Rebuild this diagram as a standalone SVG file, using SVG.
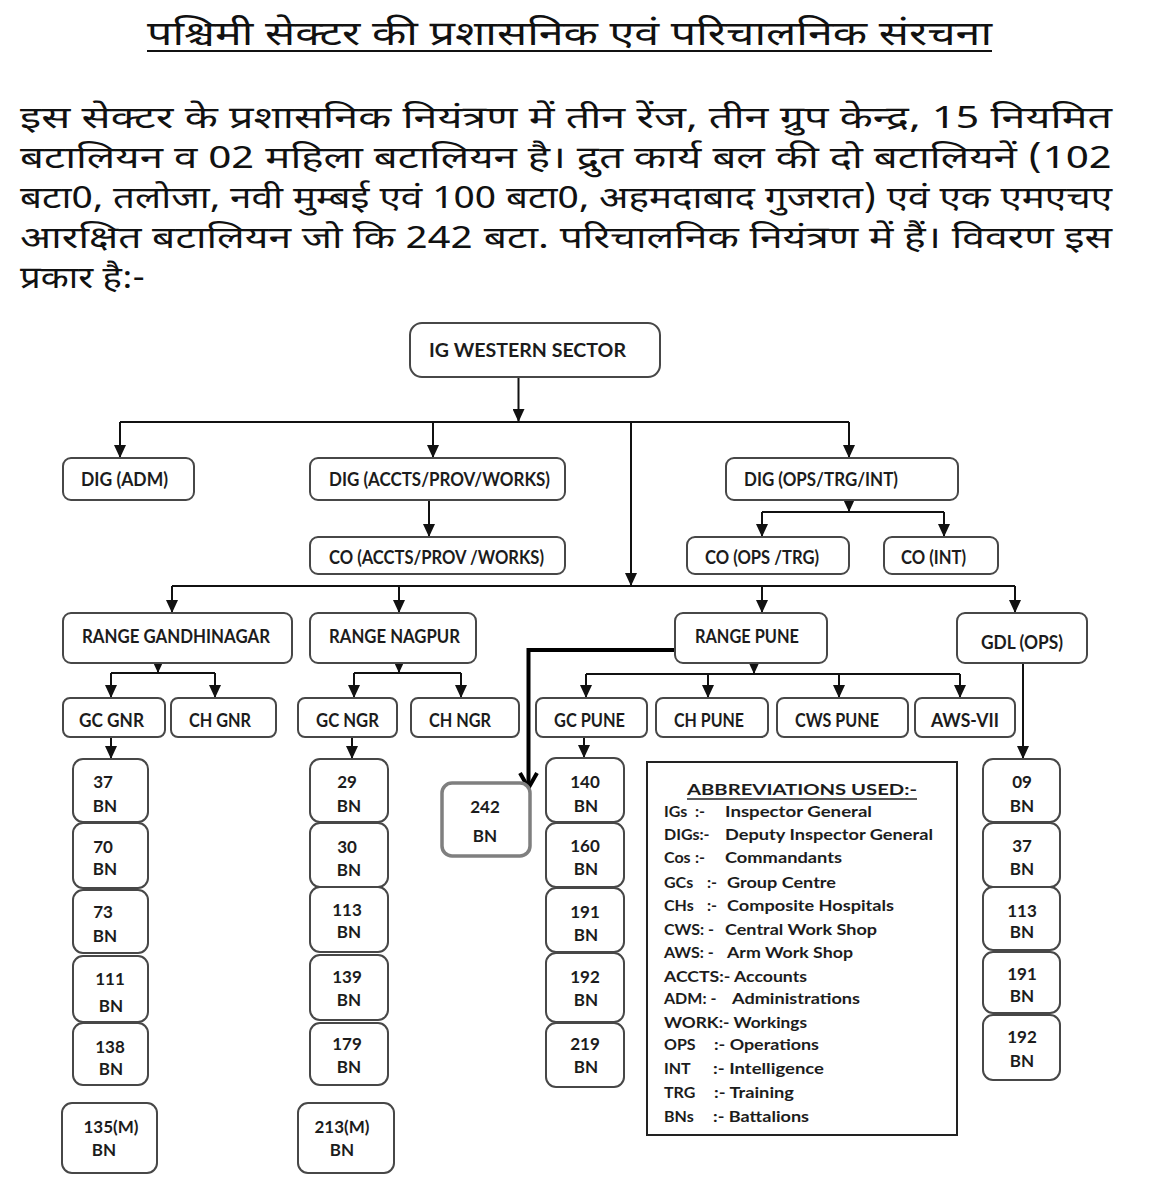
<svg xmlns="http://www.w3.org/2000/svg" width="1154" height="1188" viewBox="0 0 1154 1188">
<defs>
<marker id="ah" markerUnits="userSpaceOnUse" markerWidth="13" markerHeight="12" viewBox="0 0 13 12" refX="13" refY="6" orient="auto">
<path d="M0,0 L13,6 L0,12 z" fill="#111"/>
</marker>
<marker id="chev" markerUnits="userSpaceOnUse" markerWidth="22" markerHeight="22" viewBox="-2 -2 22 22" refX="15" refY="8.5" orient="auto" overflow="visible">
<path d="M0,0 L15,8.5 L0,17" fill="none" stroke="#000" stroke-width="4" stroke-linejoin="miter"/>
</marker>
</defs>
<style>
.hi{font-family:"Noto Sans Devanagari","Lohit Devanagari","Mangal","Noto Sans",sans-serif;fill:#111}
.box{fill:#fff;stroke:#474747;stroke-width:2}
.lbl{font-family:Lato,"Open Sans","Liberation Sans",sans-serif;font-weight:bold;font-size:18px;fill:#1c1c1c}
.bn{font-family:Lato,"Open Sans","Liberation Sans",sans-serif;font-weight:bold;font-size:17px;fill:#1c1c1c;text-anchor:middle}
.ab{font-family:Lato,"Open Sans","Liberation Sans",sans-serif;font-weight:bold;font-size:16px;fill:#1c1c1c}
.ln{fill:none;stroke:#111;stroke-width:2}
.arr{fill:none;stroke:#111;stroke-width:2;marker-end:url(#ah)}
</style>
<rect width="1154" height="1188" fill="#fff"/>

<g id="header">
<text class="hi" x="147" y="45" font-size="34" textLength="845" lengthAdjust="spacingAndGlyphs">पश्चिमी सेक्टर की प्रशासनिक एवं परिचालनिक संरचना</text>
<line x1="147" y1="51" x2="992" y2="51" stroke="#111" stroke-width="2"/>
<text class="hi" x="20" y="128" font-size="31" textLength="1092" lengthAdjust="spacingAndGlyphs">इस सेक्टर के प्रशासनिक नियंत्रण में तीन रेंज, तीन ग्रुप केन्द्र, 15 नियमित</text>
<text class="hi" x="20" y="168" font-size="31" textLength="1092" lengthAdjust="spacingAndGlyphs">बटालियन व 02 महिला बटालियन है। द्रुत कार्य बल की दो बटालियनें (102</text>
<text class="hi" x="20" y="208" font-size="31" textLength="1092" lengthAdjust="spacingAndGlyphs">बटा0, तलोजा, नवी मुम्बई एवं 100 बटा0, अहमदाबाद गुजरात) एवं एक एमएचए</text>
<text class="hi" x="20" y="248" font-size="31" textLength="1092" lengthAdjust="spacingAndGlyphs">आरक्षित बटालियन जो कि 242 बटा. परिचालनिक नियंत्रण में हैं। विवरण इस</text>
<text class="hi" x="20" y="288" font-size="31" textLength="125" lengthAdjust="spacingAndGlyphs">प्रकार है:-</text>
</g>

<g id="connectors">
<path class="arr" d="M518.5,377 V422"/>
<path class="ln" d="M120,422 H849"/>
<path class="arr" d="M120,422 V458"/>
<path class="arr" d="M433,422 V458"/>
<path class="arr" d="M849,422 V458"/>
<path class="arr" d="M631,422 V586"/>
<path class="arr" d="M429,500 V537"/>
<path class="arr" d="M849,500 V512"/>
<path class="ln" d="M762,512 H944"/>
<path class="arr" d="M762,512 V537"/>
<path class="arr" d="M944,512 V537"/>
<path class="ln" d="M172,586 H1015"/>
<path class="arr" d="M172,586 V613"/>
<path class="arr" d="M399,586 V613"/>
<path class="arr" d="M762,586 V613"/>
<path class="arr" d="M1015,586 V613"/>
<path class="arr" d="M158,663 V673"/>
<path class="ln" d="M111,673 H215"/>
<path class="arr" d="M111,673 V698"/>
<path class="arr" d="M215,673 V698"/>
<path class="arr" d="M399,663 V673"/>
<path class="ln" d="M354,673 H461"/>
<path class="arr" d="M354,673 V698"/>
<path class="arr" d="M461,673 V698"/>
<path class="arr" d="M754,663 V674"/>
<path class="ln" d="M586,674 H960"/>
<path class="arr" d="M586,674 V698"/>
<path class="arr" d="M708,674 V698"/>
<path class="arr" d="M839,674 V698"/>
<path class="arr" d="M960,674 V698"/>
<path class="arr" d="M111,737 V759"/>
<path class="arr" d="M352,737 V759"/>
<path class="arr" d="M584,737 V758"/>
<path class="arr" d="M1023,663 V759"/>
<path d="M675,650 H528.5 V788" fill="none" stroke="#000" stroke-width="4" marker-end="url(#chev)"/>
</g>

<g id="n-ig"><rect class="box" x="410" y="323" width="250" height="54" rx="12"/><text class="lbl" x="429" y="357" font-size="21" textLength="197" lengthAdjust="spacingAndGlyphs">IG WESTERN  SECTOR</text></g>
<g id="n-dig-adm"><rect class="box" x="63" y="458" width="131" height="42" rx="8"/><text class="lbl" x="81" y="486" textLength="87" lengthAdjust="spacingAndGlyphs">DIG (ADM)</text></g>
<g id="n-dig-accts"><rect class="box" x="310" y="458" width="255" height="42" rx="8"/><text class="lbl" x="329" y="486" textLength="221" lengthAdjust="spacingAndGlyphs">DIG (ACCTS/PROV/WORKS)</text></g>
<g id="n-dig-ops"><rect class="box" x="726" y="458" width="232" height="42" rx="8"/><text class="lbl" x="744" y="486" textLength="154" lengthAdjust="spacingAndGlyphs">DIG (OPS/TRG/INT)</text></g>
<g id="n-co-accts"><rect class="box" x="310" y="537" width="255" height="37" rx="8"/><text class="lbl" x="329" y="564" textLength="215" lengthAdjust="spacingAndGlyphs">CO (ACCTS/PROV /WORKS)</text></g>
<g id="n-co-ops"><rect class="box" x="687" y="537" width="162" height="37" rx="8"/><text class="lbl" x="705" y="564" textLength="114" lengthAdjust="spacingAndGlyphs">CO (OPS /TRG)</text></g>
<g id="n-co-int"><rect class="box" x="884" y="537" width="114" height="37" rx="8"/><text class="lbl" x="901" y="564" textLength="65" lengthAdjust="spacingAndGlyphs">CO (INT)</text></g>

<g id="n-range-gnr"><rect class="box" x="63" y="613" width="229" height="50" rx="8"/><text class="lbl" x="82" y="643" textLength="188" lengthAdjust="spacingAndGlyphs">RANGE GANDHINAGAR</text></g>
<g id="n-range-ngr"><rect class="box" x="310" y="613" width="166" height="50" rx="8"/><text class="lbl" x="329" y="643" textLength="131" lengthAdjust="spacingAndGlyphs">RANGE NAGPUR</text></g>
<g id="n-range-pune"><rect class="box" x="675" y="613" width="152" height="50" rx="8"/><text class="lbl" x="695" y="643" textLength="104" lengthAdjust="spacingAndGlyphs">RANGE PUNE</text></g>
<g id="n-gdl"><rect class="box" x="957" y="613" width="130" height="50" rx="8"/><text class="lbl" x="981" y="649" textLength="82" lengthAdjust="spacingAndGlyphs">GDL (OPS)</text></g>

<g id="n-gc-gnr"><rect class="box" x="63" y="698" width="102" height="39" rx="7"/><text class="lbl" x="79" y="727" textLength="65" lengthAdjust="spacingAndGlyphs">GC GNR</text></g>
<g id="n-ch-gnr"><rect class="box" x="171" y="698" width="105" height="39" rx="7"/><text class="lbl" x="189" y="727" textLength="62" lengthAdjust="spacingAndGlyphs">CH GNR</text></g>
<g id="n-gc-ngr"><rect class="box" x="298" y="698" width="99" height="39" rx="7"/><text class="lbl" x="316" y="727" textLength="63" lengthAdjust="spacingAndGlyphs">GC NGR</text></g>
<g id="n-ch-ngr"><rect class="box" x="411" y="698" width="108" height="39" rx="7"/><text class="lbl" x="429" y="727" textLength="62" lengthAdjust="spacingAndGlyphs">CH NGR</text></g>
<g id="n-gc-pune"><rect class="box" x="536" y="698" width="111" height="39" rx="7"/><text class="lbl" x="554" y="727" textLength="71" lengthAdjust="spacingAndGlyphs">GC PUNE</text></g>
<g id="n-ch-pune"><rect class="box" x="656" y="698" width="112" height="39" rx="7"/><text class="lbl" x="674" y="727" textLength="70" lengthAdjust="spacingAndGlyphs">CH PUNE</text></g>
<g id="n-cws-pune"><rect class="box" x="777" y="698" width="131" height="39" rx="7"/><text class="lbl" x="795" y="727" textLength="84" lengthAdjust="spacingAndGlyphs">CWS PUNE</text></g>
<g id="n-aws"><rect class="box" x="915" y="698" width="100" height="39" rx="7"/><text class="lbl" x="931" y="727" textLength="68" lengthAdjust="spacingAndGlyphs">AWS-VII</text></g>

<g id="n-gnr-37"><rect class="box" x="73" y="759" width="75" height="63" rx="10"/><text class="bn" x="103" y="788">37</text><text class="bn" x="105" y="812">BN</text></g>
<g id="n-gnr-70"><rect class="box" x="73" y="823" width="75" height="65" rx="10"/><text class="bn" x="103" y="853">70</text><text class="bn" x="105" y="875">BN</text></g>
<g id="n-gnr-73"><rect class="box" x="73" y="890" width="75" height="63" rx="10"/><text class="bn" x="103" y="918">73</text><text class="bn" x="105" y="942">BN</text></g>
<g id="n-gnr-111"><rect class="box" x="73" y="956" width="75" height="66" rx="10"/><text class="bn" x="110" y="985">111</text><text class="bn" x="111" y="1012">BN</text></g>
<g id="n-gnr-138"><rect class="box" x="73" y="1023" width="75" height="62" rx="10"/><text class="bn" x="110" y="1053">138</text><text class="bn" x="111" y="1075">BN</text></g>
<g id="n-gnr-135"><rect class="box" x="62" y="1103" width="95" height="70" rx="10"/><text class="bn" x="111" y="1133">135(M)</text><text class="bn" x="104" y="1156">BN</text></g>

<g id="n-ngr-29"><rect class="box" x="310" y="759" width="78" height="63" rx="10"/><text class="bn" x="347" y="788">29</text><text class="bn" x="349" y="812">BN</text></g>
<g id="n-ngr-30"><rect class="box" x="310" y="823" width="78" height="64" rx="10"/><text class="bn" x="347" y="853">30</text><text class="bn" x="349" y="876">BN</text></g>
<g id="n-ngr-113"><rect class="box" x="310" y="887" width="78" height="65" rx="10"/><text class="bn" x="347" y="916">113</text><text class="bn" x="349" y="938">BN</text></g>
<g id="n-ngr-139"><rect class="box" x="310" y="955" width="78" height="65" rx="10"/><text class="bn" x="347" y="983">139</text><text class="bn" x="349" y="1006">BN</text></g>
<g id="n-ngr-179"><rect class="box" x="310" y="1023" width="78" height="62" rx="10"/><text class="bn" x="347" y="1050">179</text><text class="bn" x="349" y="1073">BN</text></g>
<g id="n-ngr-213"><rect class="box" x="298" y="1103" width="96" height="70" rx="10"/><text class="bn" x="342" y="1133">213(M)</text><text class="bn" x="342" y="1156">BN</text></g>

<g id="n-242"><rect x="442" y="783" width="88" height="73" rx="10" fill="#fff" stroke="#7f7f7f" stroke-width="3.5"/><text class="bn" x="485" y="813" font-size="22">242</text><text class="bn" x="485" y="842" font-size="22">BN</text></g>

<g id="n-pune-140"><rect class="box" x="546" y="758" width="78" height="64" rx="10"/><text class="bn" x="585" y="788">140</text><text class="bn" x="586" y="812">BN</text></g>
<g id="n-pune-160"><rect class="box" x="546" y="823" width="78" height="64" rx="10"/><text class="bn" x="585" y="852">160</text><text class="bn" x="586" y="875">BN</text></g>
<g id="n-pune-191"><rect class="box" x="546" y="888" width="78" height="64" rx="10"/><text class="bn" x="585" y="918">191</text><text class="bn" x="586" y="941">BN</text></g>
<g id="n-pune-192"><rect class="box" x="546" y="953" width="78" height="69" rx="10"/><text class="bn" x="585" y="983">192</text><text class="bn" x="586" y="1006">BN</text></g>
<g id="n-pune-219"><rect class="box" x="546" y="1023" width="78" height="64" rx="10"/><text class="bn" x="585" y="1050">219</text><text class="bn" x="586" y="1073">BN</text></g>

<g id="n-gdl-09"><rect class="box" x="983" y="759" width="77" height="63" rx="10"/><text class="bn" x="1022" y="788">09</text><text class="bn" x="1022" y="812">BN</text></g>
<g id="n-gdl-37"><rect class="box" x="983" y="823" width="77" height="64" rx="10"/><text class="bn" x="1022" y="852">37</text><text class="bn" x="1022" y="875">BN</text></g>
<g id="n-gdl-113"><rect class="box" x="983" y="887" width="77" height="63" rx="10"/><text class="bn" x="1022" y="917">113</text><text class="bn" x="1022" y="938">BN</text></g>
<g id="n-gdl-191"><rect class="box" x="983" y="952" width="77" height="61" rx="10"/><text class="bn" x="1022" y="980">191</text><text class="bn" x="1022" y="1002">BN</text></g>
<g id="n-gdl-192"><rect class="box" x="983" y="1015" width="77" height="65" rx="10"/><text class="bn" x="1022" y="1043">192</text><text class="bn" x="1022" y="1067">BN</text></g>

<g id="abbreviations">
<rect x="647" y="762" width="310" height="373" fill="#fff" stroke="#222" stroke-width="2"/>
<text class="ab" x="687" y="795" font-size="19" textLength="230" lengthAdjust="spacingAndGlyphs">ABBREVIATIONS USED:-</text>
<line x1="687" y1="799" x2="917" y2="799" stroke="#222" stroke-width="1.6"/>
<text class="ab" x="664" y="817">IGs</text><text class="ab" x="695" y="817">:-</text><text class="ab" x="725" y="817" textLength="147" lengthAdjust="spacingAndGlyphs">Inspector General</text>
<text class="ab" x="664" y="840">DIGs:-</text><text class="ab" x="725" y="840" textLength="208" lengthAdjust="spacingAndGlyphs">Deputy Inspector General</text>
<text class="ab" x="664" y="863">Cos</text><text class="ab" x="695" y="863">:-</text><text class="ab" x="725" y="863" textLength="117" lengthAdjust="spacingAndGlyphs">Commandants</text>
<text class="ab" x="664" y="888">GCs</text><text class="ab" x="707" y="888">:-</text><text class="ab" x="727" y="888" textLength="109" lengthAdjust="spacingAndGlyphs">Group Centre</text>
<text class="ab" x="664" y="911">CHs</text><text class="ab" x="707" y="911">:-</text><text class="ab" x="727" y="911" textLength="167" lengthAdjust="spacingAndGlyphs">Composite Hospitals</text>
<text class="ab" x="664" y="935">CWS: -</text><text class="ab" x="725" y="935" textLength="152" lengthAdjust="spacingAndGlyphs">Central Work Shop</text>
<text class="ab" x="664" y="958">AWS: -</text><text class="ab" x="727" y="958" textLength="126" lengthAdjust="spacingAndGlyphs">Arm Work Shop</text>
<text class="ab" x="664" y="982" textLength="143" lengthAdjust="spacingAndGlyphs">ACCTS:- Accounts</text>
<text class="ab" x="664" y="1004">ADM: -</text><text class="ab" x="732" y="1004" textLength="128" lengthAdjust="spacingAndGlyphs">Administrations</text>
<text class="ab" x="664" y="1028" textLength="143" lengthAdjust="spacingAndGlyphs">WORK:- Workings</text>
<text class="ab" x="664" y="1050">OPS</text><text class="ab" x="714" y="1050" textLength="105" lengthAdjust="spacingAndGlyphs">:- Operations</text>
<text class="ab" x="664" y="1074">INT</text><text class="ab" x="713" y="1074" textLength="111" lengthAdjust="spacingAndGlyphs">:- Intelligence</text>
<text class="ab" x="664" y="1098">TRG</text><text class="ab" x="714" y="1098" textLength="80" lengthAdjust="spacingAndGlyphs">:- Training</text>
<text class="ab" x="664" y="1122">BNs</text><text class="ab" x="713" y="1122" textLength="96" lengthAdjust="spacingAndGlyphs">:- Battalions</text>
</g>
</svg>
